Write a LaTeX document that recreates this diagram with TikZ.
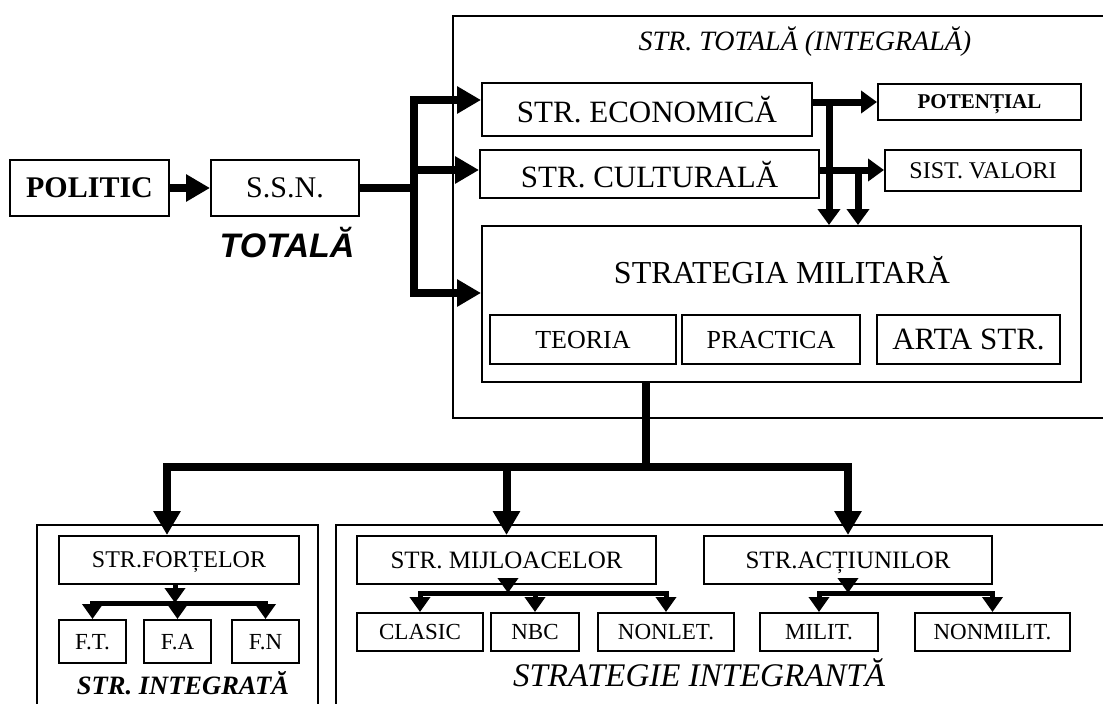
\documentclass[tikz,border=0pt]{standalone}
\usepackage{fontspec}
\setmainfont{Liberation Serif}
\newfontfamily\heavyfont{Liberation Sans}
\usetikzlibrary{arrows.meta}
\newcommand{\sz}[1]{\fontsize{#1}{#1}\selectfont}

\begin{document}
\begin{tikzpicture}
				[x=1pt, y=-1pt,
				box/.style = {draw, line width=2pt, inner sep=0pt, text depth=0pt},
				frame/.style = {draw, line width=1.5pt},
				bus/.style = {line width=8pt},
				arr/.style = {line width=8pt, -{Triangle[length=24pt,width=26pt]}},
				arrtop/.style = {line width=7pt, -{Triangle[length=16pt,width=22pt]}},
				subarr/.style = {line width=5pt, -{Triangle[length=15pt,width=20pt]}}]
				\useasboundingbox (0,0) rectangle (1103,704);
				% frames
				\draw[frame] (1110,16) -- (453,16) -- (453,418) -- (1110,418);
				\draw[frame] (37,712) -- (37,525) -- (318,525) -- (318,712);
				\draw[frame] (336,712) -- (336,525) -- (1110,525);
				% left part
				\node[box, minimum width=159pt, minimum height=56pt, font=\bfseries\sz{30}] (politic) at (89.5,188) {POLITIC};
				\node[box, minimum width=148pt, minimum height=56pt, font=\sz{30}] (ssn) at (285,188) {S.S.N.};
				\node[font=\heavyfont\bfseries\itshape\sz{34}] (totala) at (287,243) {TOTALĂ};
				% strategia totala
				\node[font=\itshape\sz{28}] (titlu) at (805,42) {STR. TOTALĂ (INTEGRALĂ)};
				\node[box, minimum width=330pt, minimum height=53pt, font=\sz{31}] (econ) at (647,109.5) {STR. ECONOMICĂ};
				\node[box, minimum width=339pt, minimum height=48pt, font=\sz{31}] (cult) at (649.5,174) {STR. CULTURALĂ};
				\node[box, minimum width=203pt, minimum height=36pt, font=\bfseries\sz{21}] (potential) at (979.5,102) {POTENȚIAL};
				\node[box, minimum width=196pt, minimum height=41pt, font=\sz{24}] (sist) at (983,170.5) {SIST. VALORI};
				\node[box, minimum width=599pt, minimum height=156pt] (strat) at (781.5,304) {};
				\node[font=\sz{32}] (strattext) at (782,270) {STRATEGIA MILITARĂ};
				\node[box, minimum width=186pt, minimum height=49pt, font=\sz{26}] (teoria) at (583,339.5) {TEORIA};
				\node[box, minimum width=178pt, minimum height=49pt, font=\sz{26}] (practica) at (771,339.5) {PRACTICA};
				\node[box, minimum width=183pt, minimum height=49pt, font=\sz{31}] (arta) at (968.5,339.5) {ARTA STR.};
				% bottom
				\node[box, minimum width=240pt, minimum height=48pt, font=\sz{24}] (fortelor) at (179,560) {STR.FORȚELOR};
				\node[box, minimum width=67pt, minimum height=43pt, font=\sz{23}] (ft) at (92.5,641.5) {F.T.};
				\node[box, minimum width=67pt, minimum height=43pt, font=\sz{23}] (fa) at (177.5,641.5) {F.A};
				\node[box, minimum width=67pt, minimum height=43pt, font=\sz{23}] (fn) at (265.5,641.5) {F.N};
				\node[font=\bfseries\itshape\sz{26.5}] (integrata) at (183,683) {STR. INTEGRATĂ};
				\node[box, minimum width=299pt, minimum height=48pt, font=\sz{25}] (mijloace) at (506.5,560) {STR. MIJLOACELOR};
				\node[box, minimum width=288pt, minimum height=48pt, font=\sz{25}] (actiuni) at (848,560) {STR.ACȚIUNILOR};
				\node[box, minimum width=126pt, minimum height=38pt, font=\sz{23}] (clasic) at (420,632) {CLASIC};
				\node[box, minimum width=88pt, minimum height=38pt, font=\sz{23}] (nbc) at (535,632) {NBC};
				\node[box, minimum width=136pt, minimum height=38pt, font=\sz{23}] (nonlet) at (666,632) {NONLET.};
				\node[box, minimum width=118pt, minimum height=38pt, font=\sz{23}] (milit) at (819,632) {MILIT.};
				\node[box, minimum width=155pt, minimum height=38pt, font=\sz{23}] (nonmilit) at (992.5,632) {NONMILIT.};
				\node[font=\itshape\sz{33}] (integranta) at (699,673) {STRATEGIE INTEGRANTĂ};
				% joints
				\coordinate (trunk) at (414,188);
				\coordinate (econjoin) at (829,102);
				\coordinate (cultjoin) at (858,170);
				\coordinate (stratout) at (646,382);
				\coordinate (busmid) at (646,467);
				\coordinate (fsub) at (175,603);
				\coordinate (msub) at (508,593);
				\coordinate (asub) at (848,593);
				% connectors
				\draw[arr] (politic) -- (ssn);
				\draw[bus] (ssn) -- (trunk);
				\draw[arr] (trunk) |- ([yshift=9.5pt]econ.west);
				\draw[arr] (trunk) |- ([yshift=4pt]cult.west);
				\draw[arr] (trunk) |- ([yshift=11pt]strat.west);
				\draw[arrtop] ([yshift=7.5pt]econ.east) -- (potential);
				\draw[arrtop] ([yshift=4pt]cult.east) -- ([yshift=0.5pt]sist.west);
				\draw[arrtop] (econjoin) -- (econjoin |- strat.north);
				\draw[arrtop] (cultjoin) -- (cultjoin |- strat.north);
				\draw[bus] (stratout) -- (busmid);
				\draw[arr] (busmid) -| ([xshift=-12pt]fortelor.north);
				\draw[arr] (busmid) -| (mijloace);
				\draw[arr] (busmid) -| (actiuni);
				\draw[subarr] (fortelor.south -| fsub) -- (fsub);
				\draw[subarr] (fsub) -| (ft);
				\draw[subarr] (fsub) -| (fa);
				\draw[subarr] (fsub) -| (fn);
				\draw[subarr] (mijloace.south -| msub) -- (msub);
				\draw[subarr] (msub) -| (clasic);
				\draw[subarr] (msub) -| (nbc);
				\draw[subarr] (msub) -| (nonlet);
				\draw[subarr] (actiuni.south -| asub) -- (asub);
				\draw[subarr] (asub) -| (milit);
				\draw[subarr] (asub) -| (nonmilit);
			\end{tikzpicture}
\end{document}
